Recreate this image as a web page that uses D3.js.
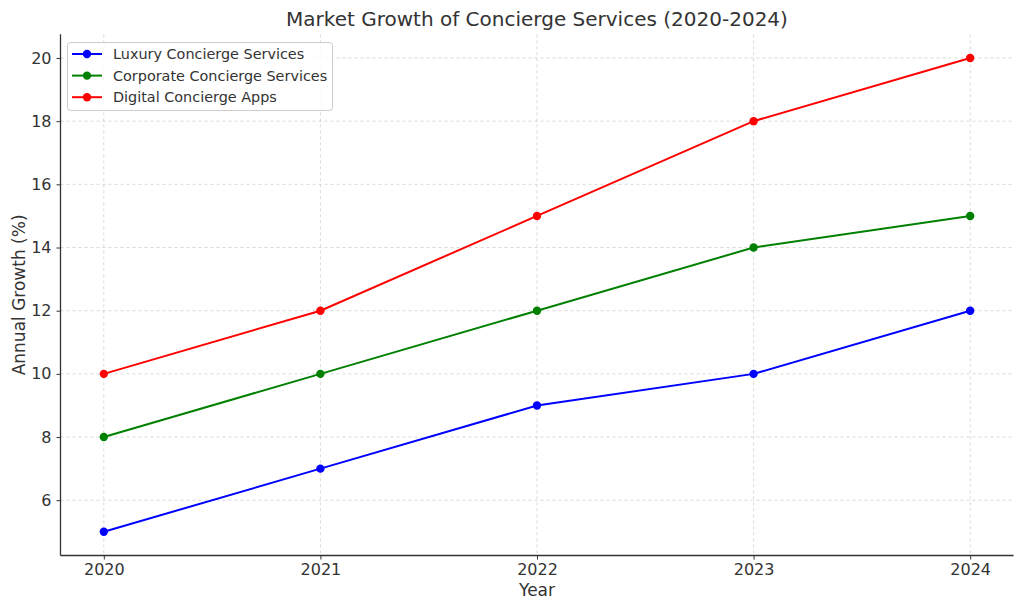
<!DOCTYPE html>
<html><head><meta charset="utf-8">
<script src="https://cdn.jsdelivr.net/npm/d3@7"></script>
<style>body{margin:0;background:#fff}svg{display:block;font-family:"DejaVu Sans",sans-serif}</style>
</head><body><svg id="c" width="1024" height="611"></svg>
<script>
const years = [2020, 2021, 2022, 2023, 2024];
const luxury = [5, 7, 9, 10, 12];
const corporate = [8, 10, 12, 14, 15];
const digital = [10, 12, 15, 18, 20];
const seriesNames = ["Luxury Concierge Services", "Corporate Concierge Services", "Digital Concierge Apps"];
const seriesColors = ["#0000ff", "#008000", "#ff0000"];
const yTicks = [6, 8, 10, 12, 14, 16, 18, 20];

const series = [luxury, corporate, digital].map((v, i) => ({name: seriesNames[i], color: seriesColors[i], values: v}));
const svg = d3.select("#c");
const L = 60.5, R = 1013.5, T = 34.3, B = 555.5;
const x = d3.scaleLinear().domain([2019.8, 2024.2]).range([L, R]);
const y = d3.scaleLinear().domain([4.25, 20.75]).range([B, T]);

// grid
const g = svg.append("g");
g.selectAll(".gx").data(years).join("line")
  .attr("x1", d => x(d)).attr("x2", d => x(d)).attr("y1", T).attr("y2", B)
  .attr("stroke", "#b0b0b0").attr("stroke-opacity", 0.6).attr("stroke-width", 0.8).attr("stroke-dasharray", "3,3");
g.selectAll(".gy").data(yTicks).join("line")
  .attr("x1", L).attr("x2", R).attr("y1", d => y(d)).attr("y2", d => y(d))
  .attr("stroke", "#b0b0b0").attr("stroke-opacity", 0.6).attr("stroke-width", 0.8).attr("stroke-dasharray", "3,3");

// axes
const xa = svg.append("g").attr("transform", `translate(0,${B})`)
  .call(d3.axisBottom(x).tickValues(years).tickFormat(d3.format("d")).tickSizeInner(4).tickSizeOuter(0).tickPadding(4));
const ya = svg.append("g").attr("transform", `translate(${L},0)`)
  .call(d3.axisLeft(y).tickValues(yTicks).tickSizeInner(4).tickSizeOuter(0).tickPadding(5));
[xa, ya].forEach(a => {
  a.attr("font-size", null).attr("font-family", null);
  a.select(".domain").attr("stroke", "#333").attr("stroke-width", 1.3);
  a.selectAll(".tick line").attr("stroke", "#333");
  a.selectAll("text").attr("fill", "#333").style("font-size", "16px").style("font-family", "DejaVu Sans");
});
xa.select(".domain").attr("d", `M${L},0H${R}`);
ya.select(".domain").attr("d", `M0,${B}V${T}`);

// lines
const line = d3.line().x((d, i) => x(years[i])).y(d => y(d));
series.forEach(s => {
  svg.append("path").datum(s.values).attr("d", line).attr("fill", "none")
    .attr("stroke", s.color).attr("stroke-width", 2);
  svg.selectAll(null).data(s.values).join("circle")
    .attr("cx", (d, i) => x(years[i])).attr("cy", d => y(d)).attr("r", 4.2).attr("fill", s.color);
});

// title & labels
svg.append("text").attr("x", (L + R) / 2).attr("y", 26).attr("text-anchor", "middle")
  .attr("fill", "#333").style("font-size", "20px").text("Market Growth of Concierge Services (2020-2024)");
svg.append("text").attr("x", (L + R) / 2).attr("y", 596).attr("text-anchor", "middle")
  .attr("fill", "#333").style("font-size", "17px").text("Year");
svg.append("text").attr("transform", `translate(24.5,${(T + B) / 2}) rotate(-90)`).attr("text-anchor", "middle")
  .attr("fill", "#333").style("font-size", "17px").text("Annual Growth (%)");

// legend
const lg = svg.append("g");
lg.append("rect").attr("x", 67.5).attr("y", 42.5).attr("width", 265).attr("height", 68).attr("rx", 3)
  .attr("fill", "#fff").attr("fill-opacity", 0.8).attr("stroke", "#ccc");
series.forEach((s, i) => {
  const yy = 54 + i * 21.6;
  lg.append("line").attr("x1", 72).attr("x2", 102).attr("y1", yy).attr("y2", yy).attr("stroke", s.color).attr("stroke-width", 2);
  lg.append("circle").attr("cx", 87).attr("cy", yy).attr("r", 4.2).attr("fill", s.color);
  lg.append("text").attr("x", 113).attr("y", yy + 5).attr("fill", "#333").style("font-size", "14.4px").text(s.name);
});
</script></body></html>
